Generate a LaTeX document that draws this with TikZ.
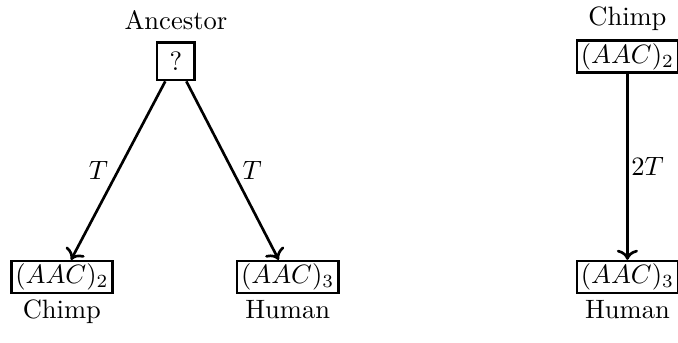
\documentclass[tikz,border=0pt]{standalone}
\usepackage{amsmath}
\usetikzlibrary{arrows.meta,positioning}

\begin{document}
\begin{tikzpicture}[
    seqbox/.style={draw,line width=1pt,inner xsep=1.5pt,inner ysep=1pt},
    rootbox/.style={draw,line width=1pt,minimum size=5mm,inner sep=1pt},
    evo/.style={->,line width=1pt},
    every label/.style={inner sep=2pt}
  ]
  \useasboundingbox (0,0) rectangle (8.98,4.53);
  % Left: both descend from a common ancestor
  \node[rootbox,label={[label distance=2pt]above:Ancestor}] (anc) at (2.33,3.72) {?};
  \node[seqbox,label=below:Chimp] (chimpL) at (0.82,0.86) {$(AAC)_2$};
  \node[seqbox,label=below:Human] (humanL) at (3.81,0.86) {$(AAC)_3$};
  \draw[evo] (anc) -- node[left] {$T$} (chimpL);
  \draw[evo] (anc) -- node[right] {$T$} (humanL);
  %
  % Right: chimp as the ancestor
  \node[seqbox,label={[label distance=1pt]above:Chimp}] (chimpR) at (8.31,3.78) {$(AAC)_2$};
  \node[seqbox,label=below:Human] (humanR) at (8.31,0.86) {$(AAC)_3$};
  \draw[evo] (chimpR) -- node[right,inner sep=1pt] {$2T$} (humanR);
\end{tikzpicture}
\end{document}
